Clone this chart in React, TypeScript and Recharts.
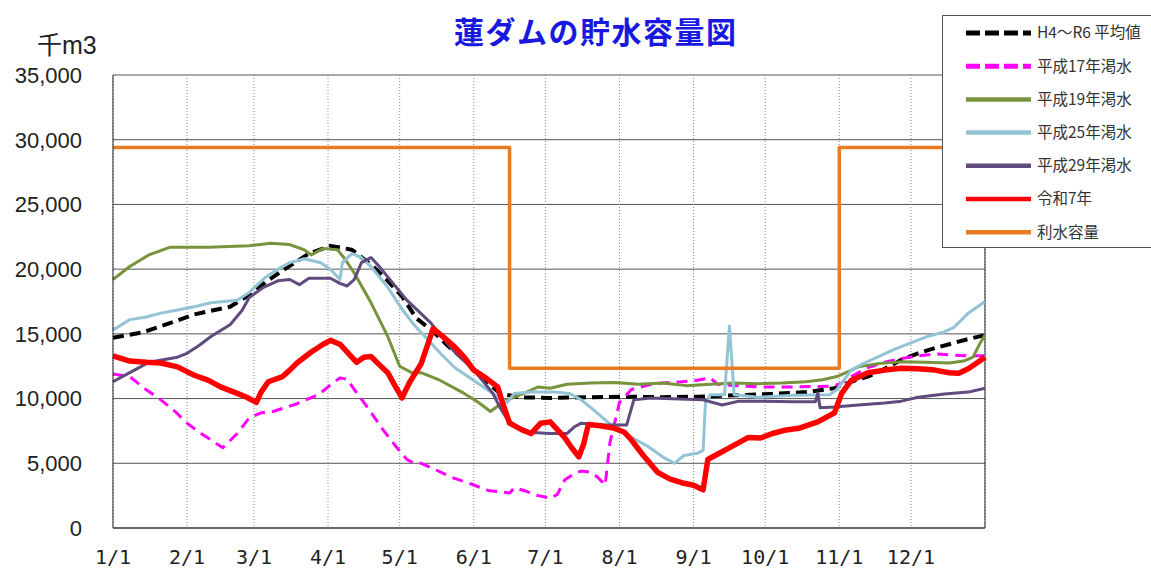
import { LineChart, Line, XAxis, YAxis, CartesianGrid, ReferenceLine, Legend } from 'recharts'

// month starts (day of year) and their labels
const monthDays = [0, 31, 59, 90, 120, 151, 181, 212, 243, 273, 304, 334]
const monthLabels = ['1/1', '2/1', '3/1', '4/1', '5/1', '6/1', '7/1', '8/1', '9/1', '10/1', '11/1', '12/1']
const yTicks = [0, 5000, 10000, 15000, 20000, 25000, 30000, 35000]

// [day, 千m3]
const average: [number, number][] = [
  [0, 14700], [12, 15100], [25, 15900], [34, 16500], [49, 17100], [57, 18000], [64, 19000], [71, 19900],
  [82, 21200], [91, 21800], [100, 21500], [109, 20200], [115, 19100], [121, 17900], [127, 16200], [134, 15200],
  [140, 14100], [147, 13000], [154, 11700], [162, 10400], [170, 10100], [183, 10050], [200, 10100], [215, 10150],
  [230, 10100], [245, 10150], [260, 10250], [275, 10350], [290, 10500], [302, 10800], [309, 11300], [316, 11700],
  [323, 12300], [330, 13000], [337, 13500], [344, 13900], [352, 14300], [358, 14600], [365, 14900],
]

const heisei17: [number, number][] = [
  [0, 11900], [7, 11700], [13, 10800], [20, 9900], [26, 9000], [31, 8100], [36, 7400], [41, 6800], [46, 6200],
  [52, 7300], [57, 8500], [62, 8900], [67, 9000], [72, 9300], [77, 9600], [82, 10000], [86, 10300], [90, 10900],
  [95, 11600], [98, 11500], [101, 10700], [107, 9200], [113, 7600], [118, 6400], [123, 5300], [126, 5000],
  [129, 5000], [135, 4500], [142, 3900], [150, 3400], [157, 2900], [162, 2800], [166, 2700], [168, 3100],
  [172, 2900], [178, 2500], [183, 2300], [186, 2600], [189, 3700], [193, 4200], [196, 4400], [200, 4300],
  [203, 3900], [206, 3300], [208, 6600], [212, 9700], [217, 10700], [224, 11050], [230, 11200], [238, 11300],
  [244, 11400], [250, 11600], [253, 11100], [260, 11000], [271, 10900], [285, 10900], [300, 10950], [304, 11100],
  [310, 11800], [316, 12400], [323, 12800], [330, 13100], [337, 13300], [344, 13450], [352, 13350], [358, 13300],
  [365, 13300],
]

const heisei19: [number, number][] = [
  [0, 19200], [7, 20200], [15, 21100], [24, 21700], [40, 21700], [57, 21800], [66, 22000], [74, 21900],
  [80, 21500], [83, 21100], [88, 21600], [94, 21500], [97, 20800], [101, 19700], [108, 17400], [115, 14800],
  [120, 12500], [125, 12000], [129, 12000], [137, 11400], [147, 10400], [153, 9700], [158, 9000], [161, 9400],
  [165, 9900], [172, 10400], [178, 10900], [183, 10800], [190, 11100], [200, 11200], [210, 11250], [220, 11100],
  [230, 11200], [240, 11000], [250, 11100], [260, 11200], [270, 11150], [280, 11200], [290, 11300], [297, 11450],
  [303, 11700], [308, 12100], [312, 12450], [320, 12700], [330, 12850], [340, 12800], [350, 12750], [356, 12900],
  [360, 13200], [363, 14300], [365, 14900],
]

const heisei25: [number, number][] = [
  [0, 15300], [7, 16100], [14, 16300], [20, 16600], [27, 16850], [34, 17100], [41, 17400], [52, 17600],
  [57, 18200], [64, 19400], [69, 20000], [74, 20500], [80, 20800], [87, 20500], [91, 20000], [95, 19200],
  [96, 20500], [100, 21200], [104, 20900], [108, 20200], [115, 18600], [121, 16900], [126, 15700], [132, 14500],
  [137, 13500], [143, 12400], [151, 11400], [159, 10400], [165, 9700], [168, 10400], [175, 10500], [185, 10500],
  [191, 10400], [196, 9900], [202, 9000], [207, 8200], [212, 7500], [217, 7000], [224, 6300], [230, 5500],
  [235, 5000], [239, 5600], [245, 5800], [247, 6000], [248, 9700], [250, 10300], [256, 10300], [258, 15600],
  [260, 10300], [270, 10100], [285, 10250], [300, 10300], [303, 10700], [309, 12200], [314, 12700], [320, 13200],
  [327, 13800], [334, 14300], [341, 14800], [348, 15150], [352, 15500], [358, 16600], [365, 17500],
]

const heisei29: [number, number][] = [
  [0, 11300], [7, 12000], [15, 12800], [27, 13200], [31, 13500], [36, 14100], [41, 14800], [49, 15700],
  [54, 16800], [57, 17800], [63, 18600], [69, 19100], [74, 19200], [78, 18800], [82, 19300], [91, 19300],
  [95, 18900], [98, 18700], [101, 19200], [104, 20500], [108, 20900], [111, 20300], [115, 19400], [123, 17600],
  [133, 15850], [142, 13800], [152, 12000], [159, 10400], [162, 9300], [165, 8400], [170, 7700], [174, 7400],
  [183, 7300], [190, 7300], [193, 7800], [196, 8100], [205, 7950], [215, 7950], [218, 9900], [225, 10050],
  [240, 9950], [247, 9900], [255, 9500], [262, 9800], [272, 9800], [285, 9750], [294, 9750], [295, 10400],
  [296, 9300], [302, 9350], [312, 9500], [323, 9650], [330, 9800], [337, 10100], [348, 10350], [358, 10500],
  [365, 10800],
]

const reiwa7: [number, number][] = [
  [0, 13300], [7, 12900], [14, 12800], [20, 12750], [27, 12450], [34, 11800], [40, 11400], [45, 10900],
  [52, 10400], [56, 10100], [60, 9700], [62, 10500], [65, 11300], [71, 11700], [74, 12200], [77, 12750],
  [83, 13600], [88, 14200], [91, 14500], [95, 14200], [99, 13400], [102, 12800], [105, 13200], [108, 13250],
  [111, 12700], [115, 12000], [118, 11000], [121, 10050], [124, 11200], [129, 12700], [134, 15400], [138, 14800],
  [143, 14000], [147, 13200], [151, 12200], [156, 11600], [161, 10900], [163, 9700], [166, 8100], [171, 7600],
  [175, 7300], [179, 8100], [183, 8200], [186, 7600], [189, 7000], [192, 6200], [195, 5500], [197, 6500],
  [199, 8000], [204, 7900], [210, 7700], [214, 7400], [217, 6800], [222, 5600], [228, 4300], [233, 3800],
  [238, 3500], [243, 3300], [247, 2950], [249, 5300], [253, 5700], [256, 6000], [261, 6500], [266, 7000],
  [271, 6950], [276, 7300], [281, 7550], [287, 7700], [295, 8200], [302, 8900], [305, 10400], [309, 11400],
  [316, 12000], [323, 12200], [330, 12350], [337, 12300], [344, 12200], [350, 12000], [354, 11950], [358, 12300],
  [362, 12800], [365, 13200],
]

const usableCapacity: [number, number][] = [
  [0, 29400], [166, 29400], [166, 12350], [304, 12350], [304, 29400], [365, 29400],
]

const toPoints = (rows: [number, number][]) => rows.map(([day, value]) => ({ day, value }))

const series = [
  { name: 'H4～R6 平均値', rows: average, color: '#000000', width: 4, dash: '11 6' },
  { name: '平成17年渇水', rows: heisei17, color: '#ff00ff', width: 3, dash: '11 7' },
  { name: '平成19年渇水', rows: heisei19, color: '#77933c', width: 3 },
  { name: '平成25年渇水', rows: heisei25, color: '#93c4d6', width: 3 },
  { name: '平成29年渇水', rows: heisei29, color: '#5f4b7e', width: 3 },
  { name: '令和7年', rows: reiwa7, color: '#ff0000', width: 5.5 },
  { name: '利水容量', rows: usableCapacity, color: '#e97c22', width: 3.5 },
]

function LegendBox() {
  return (
    <svg width={220} height={233} style={{ display: 'block' }}>
      <rect x={0.5} y={0.5} width={240} height={232} fill="#fff" stroke="#555" />
      {series.map((s, i) => {
        const cy = 18 + i * 33.2
        return (
          <g key={s.name}>
            <line x1={24} x2={89} y1={cy} y2={cy} stroke={s.color} strokeWidth={s.dash ? 5 : 4.5}
              strokeDasharray={s.dash ? '14 5' : undefined} />
            <text x={95} y={cy} dy="0.35em" fontSize={15.5} fill="#333"
              fontFamily='"Noto Sans CJK JP", sans-serif'>{s.name}</text>
          </g>
        )
      })}
    </svg>
  )
}

export default function App() {
  return (
    <div style={{ position: 'absolute', left: 0, top: 0, width: 1151, height: 569, background: '#fff' }}>
      <div style={{ position: 'absolute', left: 454, top: 15, fontSize: 30, lineHeight: 1, fontWeight: 700,
        letterSpacing: 1.5, color: '#1818e0', fontFamily: '"Noto Sans CJK JP", sans-serif', whiteSpace: 'nowrap' }}>
        蓮ダムの貯水容量図
      </div>
      <div style={{ position: 'absolute', left: 37, top: 33, fontSize: 25, lineHeight: 1, color: '#222',
        fontFamily: '"Liberation Sans", "Noto Sans CJK JP", sans-serif' }}>
        千m3
      </div>
      <LineChart width={1151} height={569} margin={{ top: 75, right: 166, bottom: 0, left: 0 }}>
        <CartesianGrid vertical={false} stroke="#555" />
        <CartesianGrid horizontal={false} stroke="#888" strokeDasharray="1 2" />
        <XAxis dataKey="day" type="number" domain={[0, 365]} ticks={monthDays} allowDuplicatedCategory={false}
          tickFormatter={(v) => monthLabels[monthDays.indexOf(v)]} height={41} tickLine={false} tickSize={0}
          tickMargin={22} axisLine={{ stroke: '#222' }}
          tick={{ fontSize: 20, fill: '#222', fontFamily: '"DejaVu Sans Mono", monospace' }} />
        <YAxis type="number" domain={[0, 35000]} ticks={yTicks} width={113} tickLine={false} tickSize={0}
          tickMargin={31} axisLine={{ stroke: '#222' }} tickFormatter={(v) => v.toLocaleString('en-US')}
          tick={{ fontSize: 22, fill: '#222', fontFamily: '"Liberation Sans", sans-serif' }} />
        <ReferenceLine x={365} stroke="#222" />
        {series.map((s) => (
          <Line key={s.name} data={toPoints(s.rows)} dataKey="value" name={s.name} type="linear"
            stroke={s.color} strokeWidth={s.width} strokeDasharray={s.dash} dot={false} activeDot={false}
            strokeLinejoin="round" isAnimationActive={false} />
        ))}
        <Legend layout="horizontal" verticalAlign="middle" align="center"
          wrapperStyle={{ left: 942, top: 15, width: 220, height: 233 }} content={() => <LegendBox />} />
      </LineChart>
    </div>
  )
}
